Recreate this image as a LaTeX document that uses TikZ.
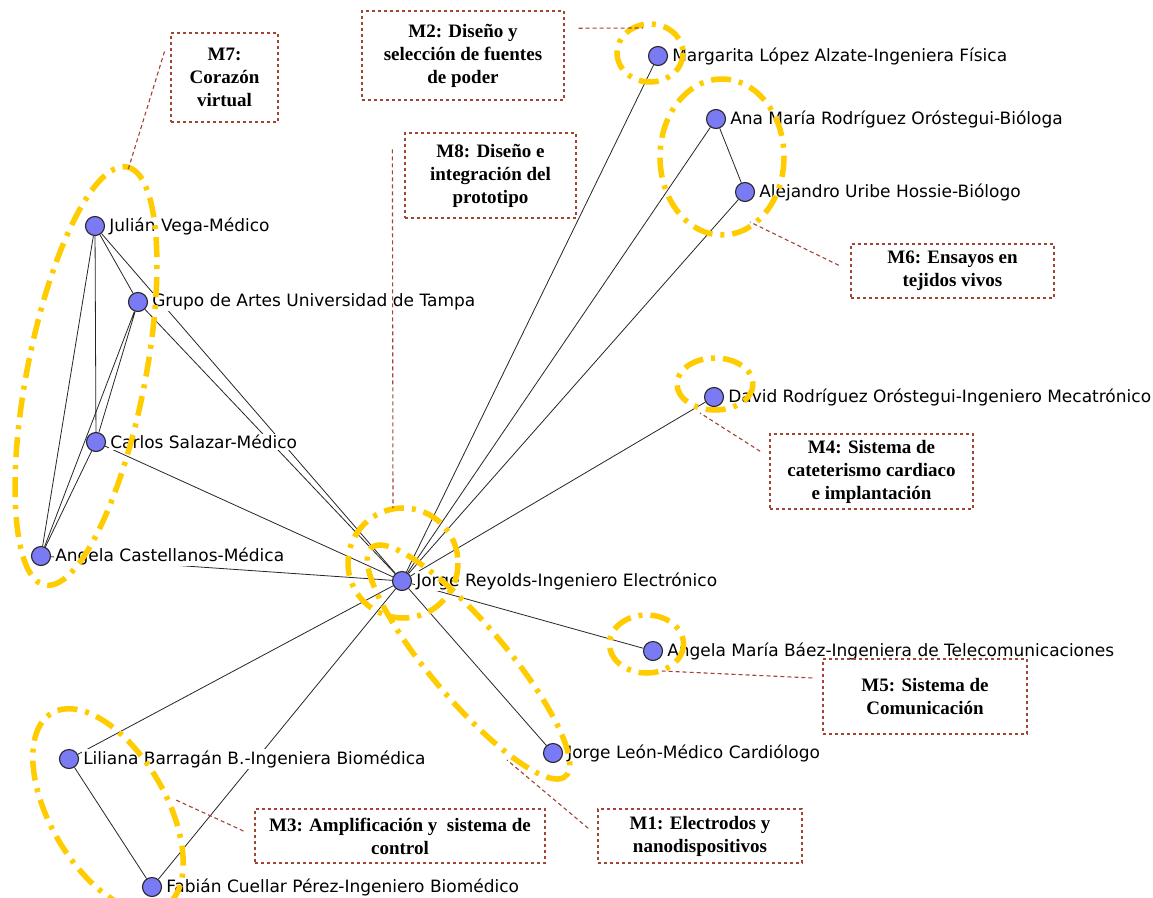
\documentclass[tikz,border=0pt]{standalone}
\usepackage{fontspec}
\setmainfont{Liberation Serif}
\newfontfamily\namefont{DejaVu Sans}
\usetikzlibrary{backgrounds}
\definecolor{dotblue}{RGB}{122,122,245}
\definecolor{ringgold}{RGB}{255,204,0}
\definecolor{boxred}{RGB}{160,68,52}

\begin{document}
\begin{tikzpicture}[x=1pt,y=-1pt,
    namelbl/.style={font=\namefont\fontsize{17}{20}\selectfont,fill=white,inner sep=1pt,label distance=3pt},
    person/.style={circle,draw=black!85,fill=dotblue,line width=1.1pt,minimum size=19pt,inner sep=0pt,
      label={[namelbl]east:{#1}}},
    tie/.style={black!85,line width=0.8pt},
    ring/.style={ringgold,line width=5.5pt,dash pattern=on 20pt off 8pt on 4pt off 8pt},
    modbox/.style={draw=boxred,dashed,line width=1.2pt,align=center,inner sep=2pt,
      font=\fontsize{19}{23}\selectfont\bfseries},
    lead/.style={boxred,line width=1.1pt,dash pattern=on 4pt off 3pt}]
    \useasboundingbox (0,0) rectangle (1153,897);
    \clip (0,0) rectangle (1153,897);
    \begin{pgfonlayer}{background}
      \fill[white] (0,0) rectangle (1153,897);
    \end{pgfonlayer}

    \node[person=Julián Vega-Médico] (jv) at (95,226) {};
    \node[person=Grupo de Artes Universidad de Tampa] (ga) at (138,302) {};
    \node[person=Carlos Salazar-Médico] (cs) at (96,442) {};
    \node[person=Angela Castellanos-Médica] (ac) at (41,556) {};
    \node[person=Jorge Reyolds-Ingeniero Electrónico] (jr) at (402,581) {};
    \node[person=Margarita López Alzate-Ingeniera Física] (mg) at (658,56) {};
    \node[person=Ana María Rodríguez Oróstegui-Bióloga] (am) at (716,119) {};
    \node[person=Alejandro Uribe Hossie-Biólogo] (au) at (745,192) {};
    \node[person=David Rodríguez Oróstegui-Ingeniero Mecatrónico] (dr) at (714,397) {};
    \node[person=Angela María Báez-Ingeniera de Telecomunicaciones] (ab) at (653,651) {};
    \node[person=Jorge León-Médico Cardiólogo] (jl) at (553,753) {};
    \node[person=Liliana Barragán B.-Ingeniera Biomédica] (lb) at (69,759) {};
    \node[person=Fabián Cuellar Pérez-Ingeniero Biomédico] (fc) at (152,887) {};

    \begin{pgfonlayer}{background}
      \draw[tie] (jv) -- (cs) (jv) -- (ac) (jv) -- (ga) (jv) -- (jr);
      \draw[tie] (ga) -- (cs) (ga) -- (ac) (ga) -- (jr);
      \draw[tie] (cs) -- (ac) (cs) -- (jr) (ac) -- (jr);
      \draw[tie] (jr) -- (mg) (jr) -- (am) (jr) -- (au) (am) -- (au);
      \draw[tie] (jr) -- (dr) (jr) -- (ab) (jr) -- (jl);
      \draw[tie] (jr) -- (lb) (jr) -- (fc) (lb) -- (fc);
    \end{pgfonlayer}

    \draw[ring,rotate around={78.9:(86,376)}] (86,376) ellipse (213 and 59);
    \draw[ring] (650,53) ellipse (33 and 29);
    \draw[ring] (722,157) ellipse (62 and 78);
    \draw[ring] (715,384) ellipse (38 and 26);
    \draw[ring] (403,563) circle (55);
    \draw[ring,rotate around={-49.7:(468.5,662)}] (468.5,662) ellipse (150 and 38);
    \draw[ring] (646.5,644) ellipse (37 and 29);
    \draw[ring,rotate around={-60:(108,810)}] (108,810) ellipse (112 and 58);

    \node[modbox,minimum width=107pt,minimum height=89pt] (m7) at (224.5,77.5) {M7:\\Corazón\\virtual};
    \node[modbox,minimum width=202pt,minimum height=89pt] (m2) at (463,55.5) {M2: Diseño y\\selección de fuentes\\de poder};
    \node[modbox,minimum width=171pt,minimum height=85pt] (m8) at (490.5,175.5) {M8: Diseño e\\integración del\\prototipo};
    \node[modbox,minimum width=203pt,minimum height=54pt] (m6) at (952.5,271) {M6: Ensayos en\\tejidos vivos};
    \node[modbox,minimum width=203pt,minimum height=75pt] (m4) at (871.5,471.5) {M4: Sistema de\\cateterismo cardiaco\\e implantación};
    \node[modbox,minimum width=204pt,minimum height=75pt] (m5) at (925,696.5) {M5: Sistema de\\Comunicación};
    \node[modbox,minimum width=204pt,minimum height=54pt] (m1) at (700,836) {M1: Electrodos y\\nanodispositivos};
    \node[modbox,minimum width=290pt,minimum height=54pt] (m3) at (400,836) {M3: Amplificación y~ sistema de\\control};

    \coordinate (e7) at (128,170);
    \coordinate (e2) at (643,28);
    \coordinate (e8) at (393,508);
    \coordinate (e6) at (750,222);
    \coordinate (e4) at (700,413);
    \coordinate (e5) at (662,671);
    \coordinate (e1) at (507,760);
    \coordinate (e3) at (176,800);

    \draw[lead,shorten <=20pt] (m7.north west) -- (e7);
    \draw[lead,shorten <=14pt] (m2.15) -- (e2);
    \draw[lead] ([shift={(-12,17)}]m8.north west) -- (e8);
    \draw[lead,shorten <=13pt] (m6.west) -- (e6);
    \draw[lead,shorten <=11pt] (m4.172) -- (e4);
    \draw[lead,shorten <=10pt] (m5.170) -- (e5);
    \draw[lead,shorten <=12pt] (m1.west) -- (e1);
    \draw[lead,shorten <=12pt] (m3.west) -- (e3);
\end{tikzpicture}
\end{document}
